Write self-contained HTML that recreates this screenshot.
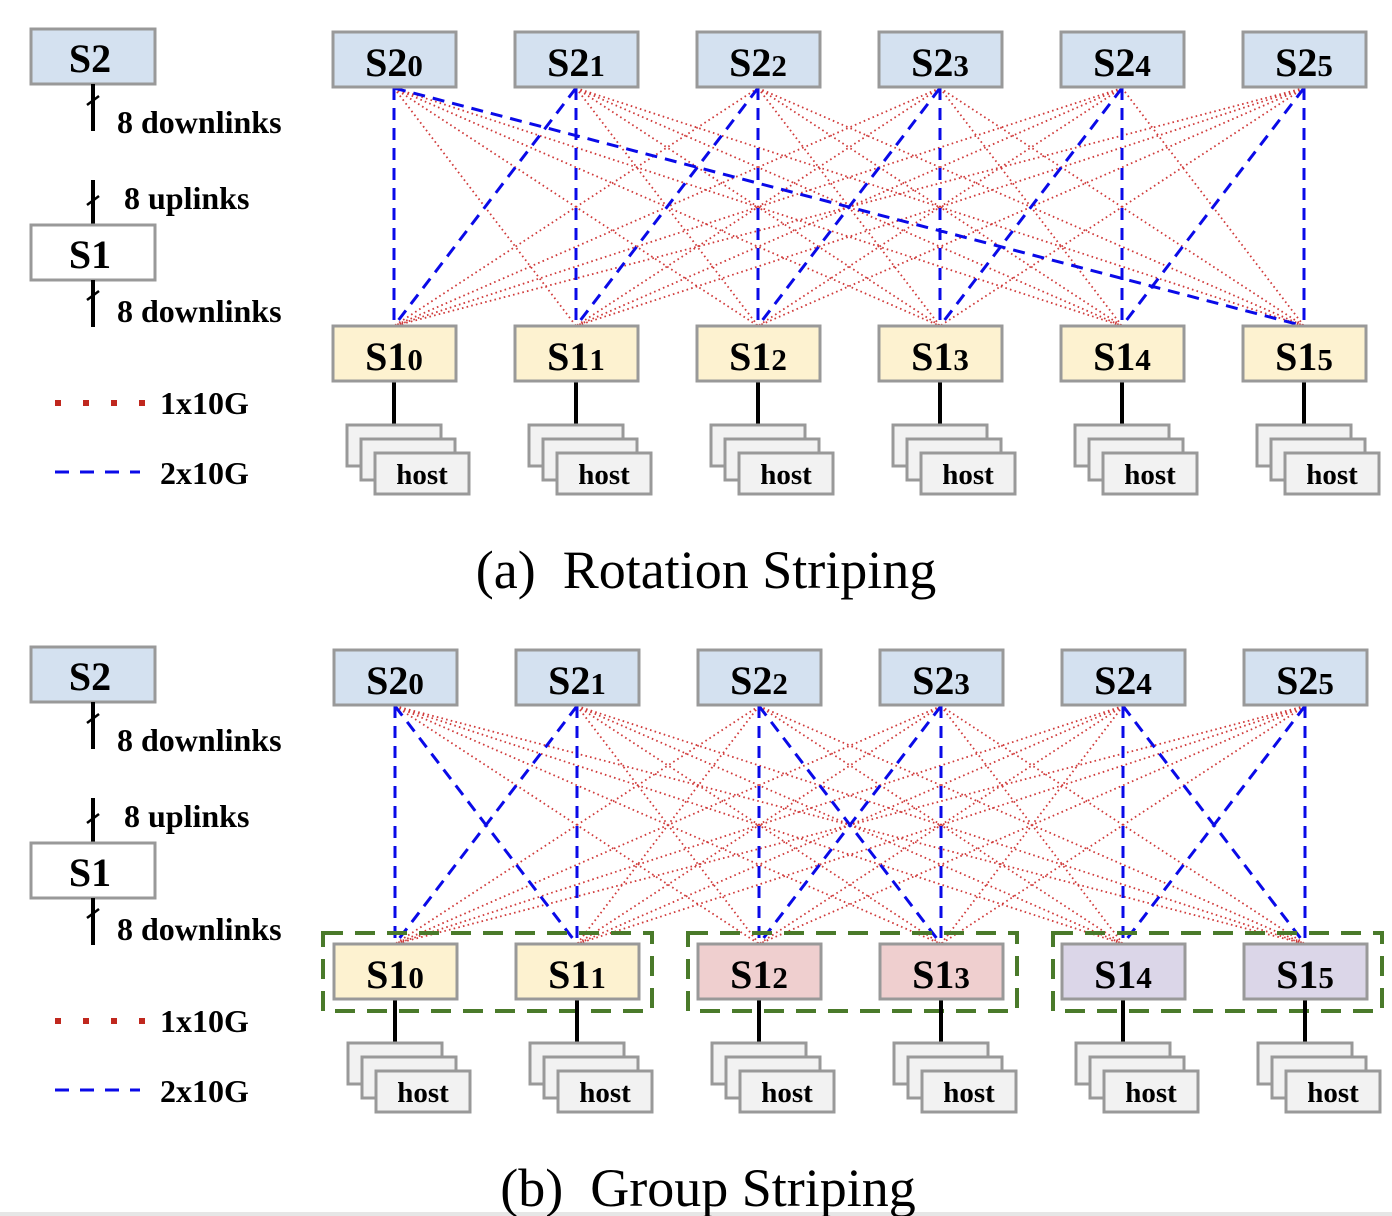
<!DOCTYPE html>
<html><head><meta charset="utf-8"><style>
html,body{margin:0;padding:0;background:#fff;}
svg{display:block;}
text{font-family:"Liberation Serif",serif;}
.n{font-size:40px;font-weight:bold;text-anchor:middle;}
.n tspan{font-size:31px;}
.h{font-size:29px;font-weight:bold;text-anchor:middle;}
.l{font-size:32px;font-weight:bold;}
.t{font-size:54px;text-anchor:middle;}
.s2{fill:#d4e1f0;stroke:#999;stroke-width:3;}
.s1{fill:#fdf2d0;stroke:#999;stroke-width:3;}
.hb{fill:#f2f2f2;stroke:#999;stroke-width:3;}
.red{stroke:#d03a3a;stroke-width:1.8;stroke-dasharray:1.6 3.2;fill:none;}
.blue{stroke:#0a0ae8;stroke-width:3;stroke-dasharray:12 8;fill:none;}
</style></head><body>
<svg width="1392" height="1216" viewBox="0 0 1392 1216" xmlns="http://www.w3.org/2000/svg">
<rect x="0" y="1212" width="1392" height="4" fill="#e6e6e6"/>

<g>
<rect x="31" y="29" width="124" height="55" class="s2"/>
<text x="90" y="72" class="n">S2</text>
<line x1="93" y1="84" x2="93" y2="131" stroke="#000" stroke-width="4"/>
<line x1="87" y1="105" x2="99" y2="96" stroke="#000" stroke-width="2.5"/>
<text x="117" y="133" class="l">8 downlinks</text>
<line x1="93" y1="180" x2="93" y2="225" stroke="#000" stroke-width="4"/>
<line x1="87" y1="205" x2="99" y2="196" stroke="#000" stroke-width="2.5"/>
<text x="124" y="209" class="l">8 uplinks</text>
<rect x="31" y="225" width="124" height="55" fill="#fff" stroke="#999" stroke-width="3"/>
<text x="90" y="268" class="n">S1</text>
<line x1="93" y1="280" x2="93" y2="327" stroke="#000" stroke-width="4"/>
<line x1="87" y1="300" x2="99" y2="291" stroke="#000" stroke-width="2.5"/>
<text x="117" y="322" class="l">8 downlinks</text>
<line x1="55" y1="403" x2="148" y2="403" stroke="#c0281e" stroke-width="6" stroke-dasharray="6 22"/>
<text x="160" y="414" class="l">1x10G</text>
<line x1="55" y1="472" x2="140" y2="472" stroke="#0a0ae8" stroke-width="3" stroke-dasharray="14 11"/>
<text x="160" y="484" class="l">2x10G</text>

<path class="red" d="M394 88L576 326M394 88L758 326M394 88L940 326M394 88L1122 326
M576 88L758 326M576 88L940 326M576 88L1122 326M576 88L1304 326
M758 88L394 326M758 88L940 326M758 88L1122 326M758 88L1304 326
M940 88L394 326M940 88L576 326M940 88L1122 326M940 88L1304 326
M1122 88L394 326M1122 88L576 326M1122 88L758 326M1122 88L1304 326
M1304 88L394 326M1304 88L576 326M1304 88L758 326M1304 88L940 326"/>
<path class="blue" d="M394 88L394 326M576 88L576 326M758 88L758 326M940 88L940 326M1122 88L1122 326M1304 88L1304 326
M576 88L394 326M758 88L576 326M940 88L758 326M1122 88L940 326M1304 88L1122 326M394 88L1304 326"/>

<rect x="333" y="32" width="123" height="55" class="s2"/><text x="394" y="76" class="n">S2<tspan>0</tspan></text>
<rect x="515" y="32" width="123" height="55" class="s2"/><text x="576" y="76" class="n">S2<tspan>1</tspan></text>
<rect x="697" y="32" width="123" height="55" class="s2"/><text x="758" y="76" class="n">S2<tspan>2</tspan></text>
<rect x="879" y="32" width="123" height="55" class="s2"/><text x="940" y="76" class="n">S2<tspan>3</tspan></text>
<rect x="1061" y="32" width="123" height="55" class="s2"/><text x="1122" y="76" class="n">S2<tspan>4</tspan></text>
<rect x="1243" y="32" width="123" height="55" class="s2"/><text x="1304" y="76" class="n">S2<tspan>5</tspan></text>

<path d="M394 381V424M576 381V424M758 381V424M940 381V424M1122 381V424M1304 381V424" stroke="#000" stroke-width="4"/>
<rect x="333" y="326" width="123" height="55" class="s1"/><text x="394" y="370" class="n">S1<tspan>0</tspan></text>
<rect x="515" y="326" width="123" height="55" class="s1"/><text x="576" y="370" class="n">S1<tspan>1</tspan></text>
<rect x="697" y="326" width="123" height="55" class="s1"/><text x="758" y="370" class="n">S1<tspan>2</tspan></text>
<rect x="879" y="326" width="123" height="55" class="s1"/><text x="940" y="370" class="n">S1<tspan>3</tspan></text>
<rect x="1061" y="326" width="123" height="55" class="s1"/><text x="1122" y="370" class="n">S1<tspan>4</tspan></text>
<rect x="1243" y="326" width="123" height="55" class="s1"/><text x="1304" y="370" class="n">S1<tspan>5</tspan></text>

<g id="ha">
<rect x="347" y="425" width="94" height="41" class="hb"/><rect x="361" y="439" width="94" height="41" class="hb"/><rect x="375" y="453" width="94" height="41" class="hb"/>
</g>
<use href="#ha" x="182"/><use href="#ha" x="364"/><use href="#ha" x="546"/><use href="#ha" x="728"/><use href="#ha" x="910"/>
<text x="422" y="484" class="h">host</text><text x="604" y="484" class="h">host</text><text x="786" y="484" class="h">host</text>
<text x="968" y="484" class="h">host</text><text x="1150" y="484" class="h">host</text><text x="1332" y="484" class="h">host</text>

<text x="706" y="588" class="t">(a)&#160; Rotation Striping</text>
</g>

<g transform="translate(0,618)">
<rect x="31" y="29" width="124" height="55" class="s2"/>
<text x="90" y="72" class="n">S2</text>
<line x1="93" y1="84" x2="93" y2="131" stroke="#000" stroke-width="4"/>
<line x1="87" y1="105" x2="99" y2="96" stroke="#000" stroke-width="2.5"/>
<text x="117" y="133" class="l">8 downlinks</text>
<line x1="93" y1="180" x2="93" y2="225" stroke="#000" stroke-width="4"/>
<line x1="87" y1="205" x2="99" y2="196" stroke="#000" stroke-width="2.5"/>
<text x="124" y="209" class="l">8 uplinks</text>
<rect x="31" y="225" width="124" height="55" fill="#fff" stroke="#999" stroke-width="3"/>
<text x="90" y="268" class="n">S1</text>
<line x1="93" y1="280" x2="93" y2="327" stroke="#000" stroke-width="4"/>
<line x1="87" y1="300" x2="99" y2="291" stroke="#000" stroke-width="2.5"/>
<text x="117" y="322" class="l">8 downlinks</text>
<line x1="55" y1="403" x2="148" y2="403" stroke="#c0281e" stroke-width="6" stroke-dasharray="6 22"/>
<text x="160" y="414" class="l">1x10G</text>
<line x1="55" y1="472" x2="140" y2="472" stroke="#0a0ae8" stroke-width="3" stroke-dasharray="14 11"/>
<text x="160" y="484" class="l">2x10G</text>
</g>

<g>
<path class="red" d="M395 706L759 944M395 706L941 944M395 706L1123 944M395 706L1305 944
M577 706L759 944M577 706L941 944M577 706L1123 944M577 706L1305 944
M759 706L395 944M759 706L577 944M759 706L1123 944M759 706L1305 944
M941 706L395 944M941 706L577 944M941 706L1123 944M941 706L1305 944
M1123 706L395 944M1123 706L577 944M1123 706L759 944M1123 706L941 944
M1305 706L395 944M1305 706L577 944M1305 706L759 944M1305 706L941 944"/>
<path class="blue" d="M395 706L395 944M577 706L577 944M759 706L759 944M941 706L941 944M1123 706L1123 944M1305 706L1305 944
M395 706L577 944M577 706L395 944M759 706L941 944M941 706L759 944M1123 706L1305 944M1305 706L1123 944"/>

<rect x="334" y="650" width="123" height="55" class="s2"/><text x="395" y="694" class="n">S2<tspan>0</tspan></text>
<rect x="516" y="650" width="123" height="55" class="s2"/><text x="577" y="694" class="n">S2<tspan>1</tspan></text>
<rect x="698" y="650" width="123" height="55" class="s2"/><text x="759" y="694" class="n">S2<tspan>2</tspan></text>
<rect x="880" y="650" width="123" height="55" class="s2"/><text x="941" y="694" class="n">S2<tspan>3</tspan></text>
<rect x="1062" y="650" width="123" height="55" class="s2"/><text x="1123" y="694" class="n">S2<tspan>4</tspan></text>
<rect x="1244" y="650" width="123" height="55" class="s2"/><text x="1305" y="694" class="n">S2<tspan>5</tspan></text>

<g fill="none" stroke="#4a7a2a" stroke-width="4" stroke-dasharray="20 12">
<rect x="323" y="933" width="329" height="78"/>
<rect x="688" y="933" width="329" height="78"/>
<rect x="1053" y="933" width="329" height="78"/>
</g>

<path d="M395 999V1042M577 999V1042M759 999V1042M941 999V1042M1123 999V1042M1305 999V1042" stroke="#000" stroke-width="4"/>
<rect x="334" y="944" width="123" height="55" class="s1"/><text x="395" y="988" class="n">S1<tspan>0</tspan></text>
<rect x="516" y="944" width="123" height="55" class="s1"/><text x="577" y="988" class="n">S1<tspan>1</tspan></text>
<rect x="698" y="944" width="123" height="55" fill="#efcfcf" stroke="#999" stroke-width="3"/><text x="759" y="988" class="n">S1<tspan>2</tspan></text>
<rect x="880" y="944" width="123" height="55" fill="#efcfcf" stroke="#999" stroke-width="3"/><text x="941" y="988" class="n">S1<tspan>3</tspan></text>
<rect x="1062" y="944" width="123" height="55" fill="#dbd6e8" stroke="#999" stroke-width="3"/><text x="1123" y="988" class="n">S1<tspan>4</tspan></text>
<rect x="1244" y="944" width="123" height="55" fill="#dbd6e8" stroke="#999" stroke-width="3"/><text x="1305" y="988" class="n">S1<tspan>5</tspan></text>

<use href="#ha" x="1" y="618"/><use href="#ha" x="183" y="618"/><use href="#ha" x="365" y="618"/><use href="#ha" x="547" y="618"/><use href="#ha" x="729" y="618"/><use href="#ha" x="911" y="618"/>
<text x="423" y="1102" class="h">host</text><text x="605" y="1102" class="h">host</text><text x="787" y="1102" class="h">host</text>
<text x="969" y="1102" class="h">host</text><text x="1151" y="1102" class="h">host</text><text x="1333" y="1102" class="h">host</text>

<text x="708" y="1206" class="t">(b)&#160; Group Striping</text>
</g>
</svg>
</body></html>
